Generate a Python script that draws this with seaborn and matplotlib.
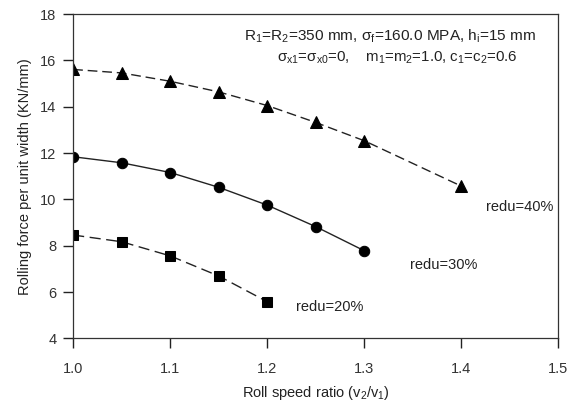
import numpy as np
import pandas as pd
import matplotlib
matplotlib.use("Agg")
import matplotlib.pyplot as plt
import seaborn as sns

# data
x_40 = [1.00, 1.05, 1.10, 1.15, 1.20, 1.25, 1.30, 1.40]
f_40 = [15.61, 15.46, 15.10, 14.64, 14.05, 13.32, 12.53, 10.57]
x_30 = [1.00, 1.05, 1.10, 1.15, 1.20, 1.25, 1.30]
f_30 = [11.84, 11.58, 11.16, 10.52, 9.75, 8.82, 7.78]
x_20 = [1.00, 1.05, 1.10, 1.15, 1.20]
f_20 = [8.46, 8.17, 7.56, 6.69, 5.58]

x_ticks = [1.0, 1.1, 1.2, 1.3, 1.4, 1.5]
y_ticks = [4, 6, 8, 10, 12, 14, 16, 18]

sns.set_style("ticks")
plt.rcParams['font.family'] = ['Liberation Sans', 'DejaVu Sans']
plt.rcParams['mathtext.fontset'] = 'custom'
plt.rcParams['mathtext.rm'] = 'Liberation Sans'
plt.rcParams['mathtext.it'] = 'Liberation Sans'
plt.rcParams['mathtext.default'] = 'regular'

fig = plt.figure(figsize=(5.67, 4.03), dpi=100)
ax = fig.add_axes([0.129, 0.1605, 0.856, 0.8045])

line_col = '#222222'
sns.lineplot(x=x_40, y=f_40, ax=ax, color=line_col, lw=1.0, marker='^',
             markersize=8.5, markeredgecolor='black', markerfacecolor='black')
sns.lineplot(x=x_30, y=f_30, ax=ax, color=line_col, lw=1.0, marker='o',
             markersize=7.5, markeredgecolor='black', markerfacecolor='black')
sns.lineplot(x=x_20, y=f_20, ax=ax, color=line_col, lw=1.0, marker='s',
             markersize=7, markeredgecolor='black', markerfacecolor='black')
ax.lines[0].set_dashes([7, 3.5])
ax.lines[2].set_dashes([8, 4])

ax.set_xlim(1.0, 1.5)
ax.set_ylim(4, 18)
ax.set_xticks(x_ticks)
ax.set_yticks(y_ticks)
ax.set_xticklabels([f"{t:.1f}" for t in x_ticks])
ax.tick_params(axis='both', direction='out', length=7, width=1.0,
               color='#222222', labelcolor='#333333', labelsize=10.5)
ax.tick_params(axis='x', pad=10)
ax.tick_params(axis='y', pad=5)
for s in ax.spines.values():
    s.set_color('#333333')
    s.set_linewidth(0.9)

ax.set_xlabel(r"Roll speed ratio (v$_2$/v$_1$)", fontsize=10.5, color='#222222', labelpad=6)
ax.set_ylabel("Rolling force per unit width (KN/mm)", fontsize=10.5, color='#222222', labelpad=6)

ax.text(1.425, 9.67, "redu=40%", fontsize=10.5, va='center', ha='left', color='#222222')
ax.text(1.347, 7.16, "redu=30%", fontsize=10.5, va='center', ha='left', color='#222222')
ax.text(1.230, 5.36, "redu=20%", fontsize=10.5, va='center', ha='left', color='#222222')

ax.text(0.353, 0.932, r"R$_1$=R$_2$=350 mm, $\sigma_f$=160.0 MPA, h$_i$=15 mm",
        transform=ax.transAxes, fontsize=11.1, va='center', ha='left', color='#222222')
ax.text(0.421, 0.866, r"$\sigma_{x1}$=$\sigma_{x0}$=0,    m$_1$=m$_2$=1.0, c$_1$=c$_2$=0.6",
        transform=ax.transAxes, fontsize=10.8, va='center', ha='left', color='#222222')

fig.savefig("out.png", dpi=100)
